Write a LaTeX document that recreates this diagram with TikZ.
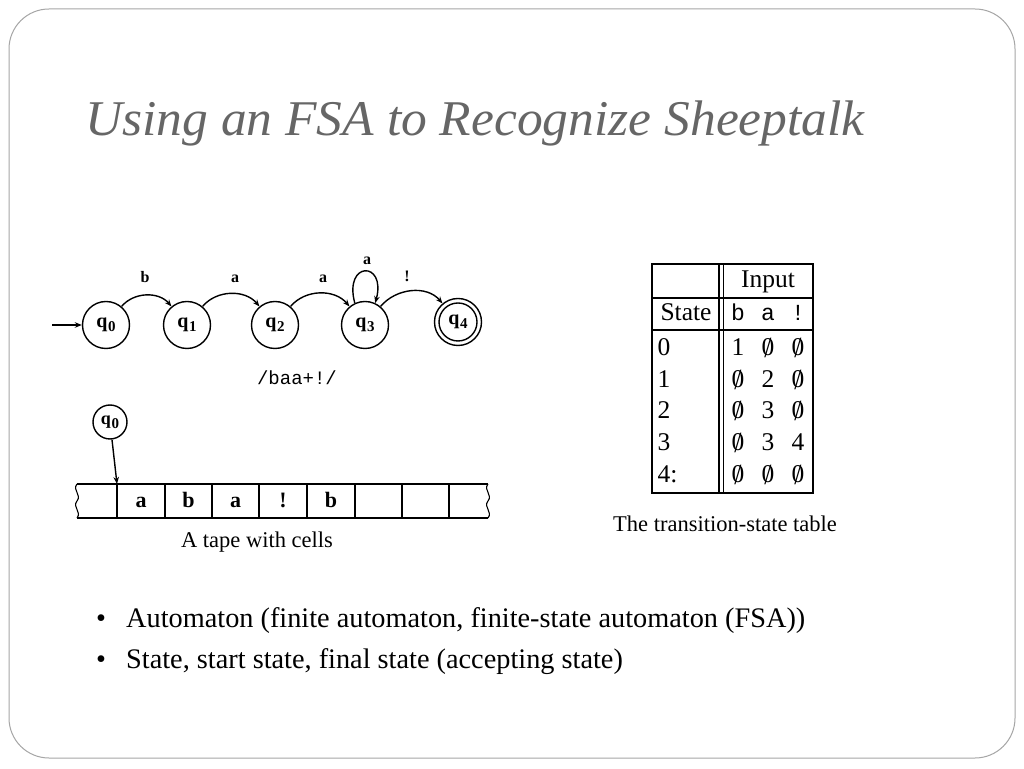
\documentclass[tikz,border=0pt]{standalone}
\usepackage{fontspec}
\setmainfont{Liberation Serif}
\setmonofont{Liberation Mono}
\usetikzlibrary{arrows.meta}
\newcommand{\zs}{{\ooalign{0\cr\hidewidth\raisebox{-0.06em}{\scalebox{1}[1.15]{/}}\hidewidth\cr}}}
\newcommand{\qs}[1]{q\kern0.5pt\raisebox{-0.45ex}{\fontsize{15}{15}\selectfont #1}}
\begin{document}
\begin{tikzpicture}[x=1pt,y=1pt,
  state/.style={circle,draw,line width=1.4pt,minimum size=47pt,inner sep=0pt,font=\fontsize{20}{20}\selectfont\bfseries},
  trans/.style={line width=1.4pt,-{Stealth[length=7pt,width=5.5pt]}},
  lbl/.style={font=\fontsize{16}{16}\selectfont\bfseries,anchor=base},
  tapel/.style={font=\fontsize{22}{22}\selectfont\bfseries,anchor=base},
  tbl/.style={line width=1.8pt},
  cell/.style={font=\fontsize{25.5}{25.5}\selectfont,anchor=base},
  mcell/.style={font=\fontsize{23}{23}\selectfont\ttfamily,anchor=base},
  captxt/.style={font=\fontsize{22.5}{22.5}\selectfont},
  bul/.style={font=\fontsize{28.3}{28.3}\selectfont,anchor=base west,inner sep=0pt}]
\useasboundingbox (0,0) rectangle (1024,768);
\fill[white] (0,0) rectangle (1024,768);
\draw[gray!70,line width=1pt,rounded corners=40pt] (9,10) rectangle (1015,759);
% title
\node[anchor=base west,inner sep=0pt,text=black!60,font=\fontsize{50}{50}\selectfont\itshape,xscale=1.03] (title) at (85,632) {Using an FSA to Recognize Sheeptalk};
% FSA
\node[state] (q0) at (106,443) {\qs{0}};
\node[state] (q1) at (187,443) {\qs{1}};
\node[state] (q2) at (275,443) {\qs{2}};
\node[state] (q3) at (365,443) {\qs{3}};
\node[state] (q4) at (458,446) {\qs{4}};
\node[circle,draw,line width=1.4pt,minimum size=38pt,inner sep=0pt] (q4i) at (q4) {};
\coordinate (start) at (52,443);
\draw[trans] (start) -- (q0);
\draw[trans] (q0.50) to[out=50,in=130] (q1.130);
\draw[trans] (q1.50) to[out=50,in=130] (q2.130);
\draw[trans] (q2.50) to[out=50,in=130] (q3.130);
\draw[trans] (q3.50) to[out=50,in=130] (q4.130);
\draw[trans] (q3.115) to[out=105,in=75,looseness=5.5] (q3.65);
\node[lbl] (lb) at (145,485) {b};
\node[lbl] (la1) at (235,485) {a};
\node[lbl] (la2) at (323,485) {a};
\node[lbl] (la3) at (367,503) {a};
\node[lbl] (lx) at (407,486) {!};
\node[font=\fontsize{19}{19}\selectfont\ttfamily] (re) at (297,390) {/baa+!/};
% tape
\draw[line width=1.1pt] (77,284) -- (488,284) (77,250) -- (488,250);
\draw[line width=1.1pt] (77,284) .. controls (72,278) and (82,273) .. (77,267) .. controls (72,261) and (82,256) .. (77,250);
\draw[line width=1.1pt] (488,284) .. controls (483,278) and (493,273) .. (488,267) .. controls (483,261) and (493,256) .. (488,250);
\foreach \x in {117,165,212,259,307,355,402,449} {\draw[line width=1.1pt] (\x,284) -- (\x,250);}
\node[tapel] (t1) at (141,260) {a};
\node[tapel] (t2) at (188.5,260) {b};
\node[tapel] (t3) at (235.5,260) {a};
\node[tapel] (t4) at (283,260) {!};
\node[tapel] (t5) at (331,260) {b};
\node[circle,draw,line width=1.4pt,minimum size=34pt,inner sep=0pt,font=\fontsize{18}{18}\selectfont\bfseries] (h) at (110,346) {\qs{0}};
\coordinate (head) at (117,284);
\draw[trans] (h) -- (head);
\node[captxt] (tc) at (257,226) {A tape with cells};
% table
\draw[tbl] (652,504) rectangle (813,275);
\draw[tbl] (652,470) -- (813,470) (652,438) -- (813,438);
\draw[tbl] (719,504) -- (719,275) (723.5,504) -- (723.5,275);
\node[cell] (inp) at (768,480) {Input};
\node[cell] (st) at (686,447) {State};
\node[mcell] (cb) at (738,447) {b};
\node[mcell] (ca) at (768,447) {a};
\node[mcell] (cx) at (798,447) {!};
\node[cell,anchor=base west] (r0) at (654,412) {0};
\node[cell,anchor=base west] (r1) at (654,380) {1};
\node[cell,anchor=base west] (r2) at (654,349) {2};
\node[cell,anchor=base west] (r3) at (654,317) {3};
\node[cell,anchor=base west] (r4) at (654,285) {4:};
\node[cell] (c01) at (738,412) {1};   \node[cell] (c02) at (768,412) {\zs}; \node[cell] (c03) at (798,412) {\zs};
\node[cell] (c11) at (738,380) {\zs}; \node[cell] (c12) at (768,380) {2};   \node[cell] (c13) at (798,380) {\zs};
\node[cell] (c21) at (738,349) {\zs}; \node[cell] (c22) at (768,349) {3};   \node[cell] (c23) at (798,349) {\zs};
\node[cell] (c31) at (738,317) {\zs}; \node[cell] (c32) at (768,317) {3};   \node[cell] (c33) at (798,317) {4};
\node[cell] (c41) at (738,285) {\zs}; \node[cell] (c42) at (768,285) {\zs}; \node[cell] (c43) at (798,285) {\zs};
\node[captxt] (tabc) at (725,244) {The transition-state table};
% bullets
\node[bul] (b1d) at (96,141) {•};
\node[bul] (b1) at (126,141) {Automaton (finite automaton, finite-state automaton (FSA))};
\node[bul] (b2d) at (96,100) {•};
\node[bul] (b2) at (126,100) {State, start state, final state (accepting state)};
\end{tikzpicture}
\end{document}
